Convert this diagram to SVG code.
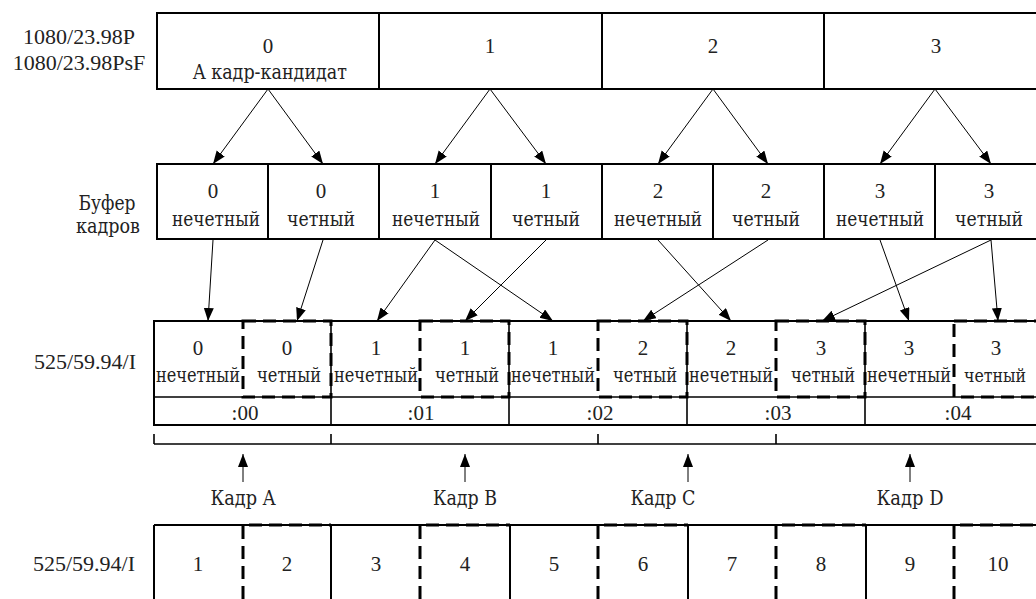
<svg xmlns="http://www.w3.org/2000/svg" width="1036" height="599" viewBox="0 0 1036 599">
<style>
  text { font-family: "Liberation Serif", "Times New Roman", serif; fill: #222; }
  .t { font-size: 21px; text-anchor: middle; }
  .lbl { font-size: 22px; text-anchor: middle; }
  .c { font-family: "DejaVu Serif", "Liberation Serif", serif; font-size: 21px; text-anchor: middle; }
  .box { fill: #fff; stroke: #000; stroke-width: 2; }
  .thin { stroke: #000; stroke-width: 1.6; fill: none; }
  .dash { stroke: #000; stroke-width: 3; fill: none; stroke-dasharray: 13 7; }
  .conn line { stroke: #000; stroke-width: 1; }
</style>
<defs>
  <marker id="ah" markerUnits="userSpaceOnUse" markerWidth="14" markerHeight="12" refX="13" refY="5" orient="auto">
    <path d="M0,0 L13,5 L0,10 Z" fill="#000"/>
  </marker>
</defs>
<rect width="1036" height="599" fill="#fff"/>

<!-- Left labels -->
<g id="labels">
  <text class="lbl" x="79" y="44">1080/23.98P</text>
  <text class="lbl" x="79" y="70">1080/23.98PsF</text>
  <text class="c" x="107" y="210" textLength="57" lengthAdjust="spacingAndGlyphs">Буфер</text>
  <text class="c" x="108" y="233" textLength="64" lengthAdjust="spacingAndGlyphs">кадров</text>
  <text class="lbl" x="85" y="369">525/59.94/I</text>
  <text class="lbl" x="84" y="571">525/59.94/I</text>
</g>

<!-- Row 1: 1080 frames -->
<g id="row1">
  <g id="f0"><rect class="box" x="157" y="13" width="222" height="76"/><text class="t" x="268" y="53">0</text><text class="c" x="270" y="79" textLength="154" lengthAdjust="spacingAndGlyphs">A кадр-кандидат</text></g>
  <g id="f1"><rect class="box" x="379" y="13" width="223" height="76"/><text class="t" x="490" y="53">1</text></g>
  <g id="f2"><rect class="box" x="602" y="13" width="222" height="76"/><text class="t" x="713" y="53">2</text></g>
  <g id="f3"><rect class="box" x="824" y="13" width="222" height="76"/><text class="t" x="936" y="53">3</text></g>
</g>

<!-- Row 2: frame buffer -->
<g id="row2">
  <g id="b0o"><rect class="box" x="157" y="164" width="111" height="75"/><text class="t" x="213" y="198">0</text><text class="c" x="216" y="226" textLength="88" lengthAdjust="spacingAndGlyphs">нечетный</text></g>
  <g id="b0e"><rect class="box" x="268" y="164" width="111" height="75"/><text class="t" x="321" y="198">0</text><text class="c" x="321" y="226" textLength="68" lengthAdjust="spacingAndGlyphs">четный</text></g>
  <g id="b1o"><rect class="box" x="379" y="164" width="112" height="75"/><text class="t" x="435" y="198">1</text><text class="c" x="436" y="226" textLength="88" lengthAdjust="spacingAndGlyphs">нечетный</text></g>
  <g id="b1e"><rect class="box" x="491" y="164" width="111" height="75"/><text class="t" x="546" y="198">1</text><text class="c" x="546" y="226" textLength="68" lengthAdjust="spacingAndGlyphs">четный</text></g>
  <g id="b2o"><rect class="box" x="602" y="164" width="111" height="75"/><text class="t" x="658" y="198">2</text><text class="c" x="658" y="226" textLength="88" lengthAdjust="spacingAndGlyphs">нечетный</text></g>
  <g id="b2e"><rect class="box" x="713" y="164" width="111" height="75"/><text class="t" x="766" y="198">2</text><text class="c" x="766" y="226" textLength="68" lengthAdjust="spacingAndGlyphs">четный</text></g>
  <g id="b3o"><rect class="box" x="824" y="164" width="111" height="75"/><text class="t" x="880" y="198">3</text><text class="c" x="880" y="226" textLength="88" lengthAdjust="spacingAndGlyphs">нечетный</text></g>
  <g id="b3e"><rect class="box" x="935" y="164" width="111" height="75"/><text class="t" x="989" y="198">3</text><text class="c" x="989" y="226" textLength="68" lengthAdjust="spacingAndGlyphs">четный</text></g>
</g>

<!-- Row 3: 525/59.94/I fields -->
<g id="row3">
  <rect x="154" y="321" width="892" height="104" fill="#fff" stroke="#000" stroke-width="2"/>
  <line class="thin" x1="154" y1="397" x2="1046" y2="397"/>
  <line class="thin" x1="331" y1="321" x2="331" y2="425"/>
  <line class="thin" x1="509" y1="321" x2="509" y2="425"/>
  <line class="thin" x1="687" y1="321" x2="687" y2="425"/>
  <line class="thin" x1="865" y1="321" x2="865" y2="425"/>
  <rect class="dash" x="243" y="321" width="88" height="76"/>
  <rect class="dash" x="420" y="321" width="89" height="76"/>
  <rect class="dash" x="598" y="321" width="89" height="76"/>
  <rect class="dash" x="776" y="321" width="89" height="76"/>
  <rect class="dash" x="954" y="321" width="92" height="76"/>
  <g id="s0"><text class="t" x="198" y="355">0</text><text class="c" x="198" y="382" textLength="84" lengthAdjust="spacingAndGlyphs">нечетный</text></g>
  <g id="s1"><text class="t" x="287" y="355">0</text><text class="c" x="289" y="382" textLength="64" lengthAdjust="spacingAndGlyphs">четный</text></g>
  <g id="s2"><text class="t" x="376" y="355">1</text><text class="c" x="376" y="382" textLength="84" lengthAdjust="spacingAndGlyphs">нечетный</text></g>
  <g id="s3"><text class="t" x="465" y="355">1</text><text class="c" x="467" y="382" textLength="64" lengthAdjust="spacingAndGlyphs">четный</text></g>
  <g id="s4"><text class="t" x="553" y="355">1</text><text class="c" x="553" y="382" textLength="84" lengthAdjust="spacingAndGlyphs">нечетный</text></g>
  <g id="s5"><text class="t" x="643" y="355">2</text><text class="c" x="645" y="382" textLength="64" lengthAdjust="spacingAndGlyphs">четный</text></g>
  <g id="s6"><text class="t" x="731" y="355">2</text><text class="c" x="731" y="382" textLength="84" lengthAdjust="spacingAndGlyphs">нечетный</text></g>
  <g id="s7"><text class="t" x="821" y="355">3</text><text class="c" x="823" y="382" textLength="64" lengthAdjust="spacingAndGlyphs">четный</text></g>
  <g id="s8"><text class="t" x="909" y="355">3</text><text class="c" x="909" y="382" textLength="84" lengthAdjust="spacingAndGlyphs">нечетный</text></g>
  <g id="s9"><text class="t" x="996" y="355">3</text><text class="c" x="995" y="382" style="font-size:19px" textLength="62" lengthAdjust="spacingAndGlyphs">четный</text></g>
  <g id="tc">
    <text class="t" x="245" y="420">:00</text>
    <text class="t" x="421" y="420">:01</text>
    <text class="t" x="600" y="420">:02</text>
    <text class="t" x="778" y="420">:03</text>
    <text class="t" x="958" y="420">:04</text>
  </g>
</g>

<!-- Bracket -->
<g id="bracket">
  <line class="thin" x1="154" y1="444" x2="1036" y2="444"/>
  <line class="thin" x1="154" y1="434" x2="154" y2="444"/>
  <line class="thin" x1="331" y1="434" x2="331" y2="444"/>
  <line class="thin" x1="598" y1="434" x2="598" y2="444"/>
  <line class="thin" x1="776" y1="434" x2="776" y2="444"/>
</g>

<!-- Frame labels -->
<g id="frames">
  <text class="c" x="243" y="505" textLength="65" lengthAdjust="spacingAndGlyphs">Кадр A</text>
  <text class="c" x="465" y="505" textLength="64" lengthAdjust="spacingAndGlyphs">Кадр B</text>
  <text class="c" x="663" y="505" textLength="65" lengthAdjust="spacingAndGlyphs">Кадр C</text>
  <text class="c" x="910" y="505" textLength="67" lengthAdjust="spacingAndGlyphs">Кадр D</text>
</g>

<!-- Row 4: field numbers -->
<g id="row4">
  <line x1="154" y1="525" x2="1036" y2="525" stroke="#000" stroke-width="2"/>
  <line x1="154" y1="525" x2="154" y2="599" stroke="#000" stroke-width="2"/>
  <line x1="331" y1="525" x2="331" y2="599" stroke="#000" stroke-width="2"/>
  <line x1="510" y1="525" x2="510" y2="599" stroke="#000" stroke-width="2"/>
  <line x1="688" y1="525" x2="688" y2="599" stroke="#000" stroke-width="2"/>
  <line x1="866" y1="525" x2="866" y2="599" stroke="#000" stroke-width="2"/>
  <polyline class="dash" points="243,599 243,525 331,525"/>
  <polyline class="dash" points="420,599 420,525 510,525"/>
  <polyline class="dash" points="598,599 598,525 688,525"/>
  <polyline class="dash" points="776,599 776,525 866,525"/>
  <polyline class="dash" points="954,599 954,525 1046,525"/>
  <g id="n1"><text class="t" x="198" y="571">1</text></g>
  <g id="n2"><text class="t" x="287" y="571">2</text></g>
  <g id="n3"><text class="t" x="376" y="571">3</text></g>
  <g id="n4"><text class="t" x="465" y="571">4</text></g>
  <g id="n5"><text class="t" x="554" y="571">5</text></g>
  <g id="n6"><text class="t" x="643" y="571">6</text></g>
  <g id="n7"><text class="t" x="732" y="571">7</text></g>
  <g id="n8"><text class="t" x="821" y="571">8</text></g>
  <g id="n9"><text class="t" x="910" y="571">9</text></g>
  <g id="n10"><text class="t" x="998" y="571">10</text></g>
</g>

<!-- Connectors -->
<g id="connectors" class="conn">
  <line x1="268" y1="89" x2="213" y2="164" marker-end="url(#ah)"/>
  <line x1="268" y1="89" x2="323" y2="164" marker-end="url(#ah)"/>
  <line x1="490" y1="89" x2="435" y2="164" marker-end="url(#ah)"/>
  <line x1="490" y1="89" x2="546" y2="164" marker-end="url(#ah)"/>
  <line x1="713" y1="89" x2="658" y2="164" marker-end="url(#ah)"/>
  <line x1="713" y1="89" x2="768" y2="164" marker-end="url(#ah)"/>
  <line x1="935" y1="89" x2="880" y2="164" marker-end="url(#ah)"/>
  <line x1="935" y1="89" x2="991" y2="164" marker-end="url(#ah)"/>

  <line x1="213" y1="240" x2="208" y2="321" marker-end="url(#ah)"/>
  <line x1="323" y1="240" x2="297" y2="321" marker-end="url(#ah)"/>
  <line x1="435" y1="240" x2="377" y2="321" marker-end="url(#ah)"/>
  <line x1="435" y1="240" x2="553" y2="321" marker-end="url(#ah)"/>
  <line x1="546" y1="240" x2="465" y2="321" marker-end="url(#ah)"/>
  <line x1="658" y1="240" x2="731" y2="321" marker-end="url(#ah)"/>
  <line x1="768" y1="240" x2="643" y2="321" marker-end="url(#ah)"/>
  <line x1="880" y1="240" x2="909" y2="321" marker-end="url(#ah)"/>
  <line x1="991" y1="240" x2="822" y2="321" marker-end="url(#ah)"/>
  <line x1="991" y1="240" x2="998" y2="321" marker-end="url(#ah)"/>

  <line x1="243" y1="482" x2="243" y2="454" marker-end="url(#ah)"/>
  <line x1="465" y1="482" x2="465" y2="454" marker-end="url(#ah)"/>
  <line x1="688" y1="482" x2="688" y2="454" marker-end="url(#ah)"/>
  <line x1="910" y1="482" x2="910" y2="454" marker-end="url(#ah)"/>
</g>
</svg>
